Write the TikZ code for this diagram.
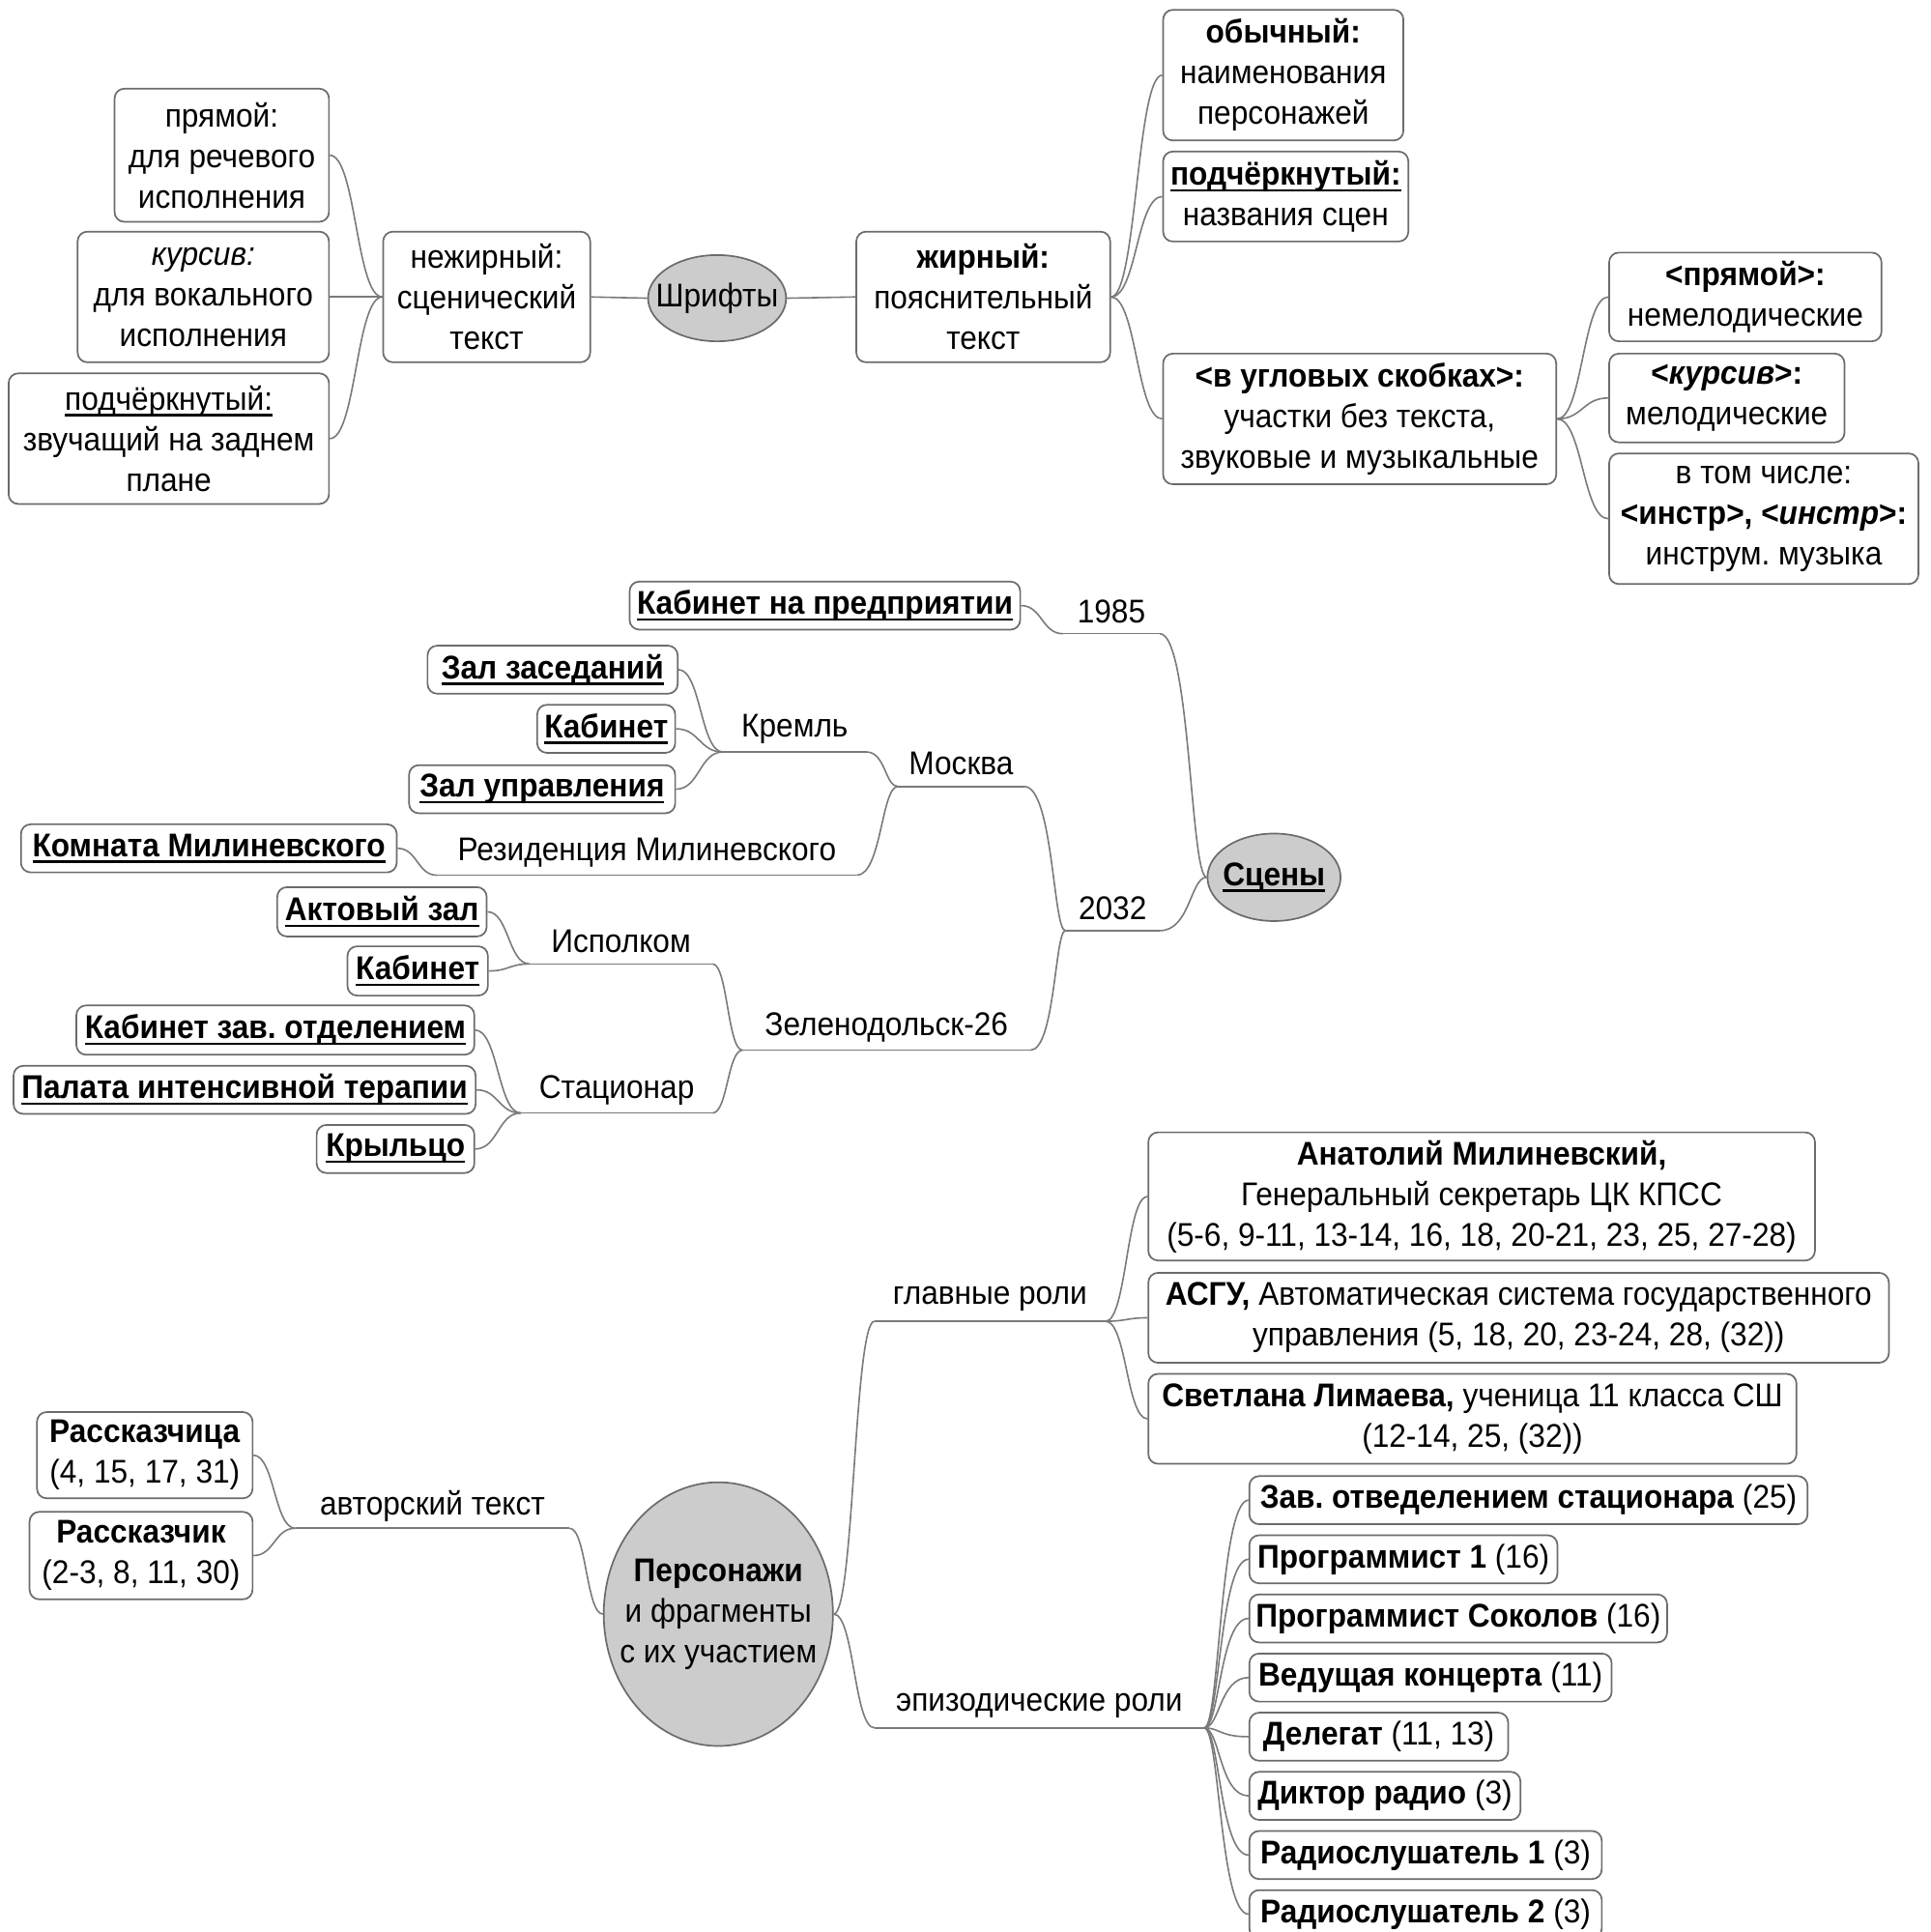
\documentclass[tikz,border=0pt]{standalone}
\usepackage{fontspec}
\setmainfont{Liberation Sans}[FakeStretch=0.93]
\usetikzlibrary{shapes.geometric,calc}
\frenchspacing
\newcommand\myul[1]{\leavevmode\setbox0=\hbox{#1}\rlap{\vrule width\wd0 height -2.0pt depth 3.2pt}\box0}
% box: [opts]{name}{x1}{y1}{x2}{y2}{text}
\newcommand\bxn[7][]{\node[bx,#1,minimum width={(#5-#3)*0.6375pt},minimum height={(#6-#4)*0.6375pt}] (#2) at ({(#3+#5)/2},{(#4+#6)/2}) {#7};}
% label with underline: {name}{x1}{x2}{yline}{text}
\newcommand\lbn[5]{\node[lbl,minimum width={(#3-#2)*0.6375pt},minimum height=36*0.6375pt] (#1) at ({(#2+#3)/2},{#4-18}) {#5};
  \draw[conn] (#1.south west) -- (#1.south east);}
% ellipse: {name}{cx}{cy}{w}{h}{text}
\newcommand\eln[6]{\node[ell,minimum width={#4*0.6375pt},minimum height={#5*0.6375pt}] (#1) at (#2,#3) {};
  \node[lbl] (#1-t) at (#1.center) {#6};}
\begin{document}
\begin{tikzpicture}[x=0.6375pt,y=-0.6375pt,
  every node/.style={font=\fontsize{17pt}{21pt}\selectfont\frenchspacing},
  bx/.style={draw=black!58, line width=0.85pt, rounded corners=5pt, fill=white, inner sep=0pt, align=center},
  ell/.style={ellipse, draw=black!58, fill=black!20, line width=0.85pt, inner sep=0pt},
  lbl/.style={inner sep=0pt, align=center},
  conn/.style={draw=black!52, line width=0.8pt},
  br/.style={to path={let \p1=(\tikztostart), \p2=(\tikztotarget) in .. controls ({\x1+#1*(\x2-\x1)},\y1) and ({\x1+#1*(\x2-\x1)},\y2) .. (\tikztotarget)}},
  br/.default=0.5]
\useasboundingbox (0,0) rectangle (1567,1568);
\clip (0,0) rectangle (1567,1568);
\fill[white] (0,0) rectangle (1567,1568);

% ---------- Шрифты ----------
\eln{shr}{582}{242}{112}{70}{Шрифты}
\bxn{nezh}{311}{188}{479}{294}{нежирный:\\сценический\\текст}
\bxn{pr}{93}{72}{267}{180}{прямой:\\для речевого\\исполнения}
\bxn{kur}{63}{188}{267}{294}{\textit{курсив:}\\для вокального\\исполнения}
\bxn{podch}{7}{303}{267}{409}{\myul{подчёркнутый:}\\звучащий на заднем\\плане}
\bxn{zh}{695}{188}{901}{294}{\textbf{жирный:}\\пояснительный\\текст}
\bxn{ob}{944}{8}{1139}{114}{\textbf{обычный:}\\наименования\\персонажей}
\bxn{podb}{944}{123}{1143}{196}{\textbf{\myul{подчёркнутый:}}\\названия сцен}
\bxn{ugl}{944}{287}{1263}{393}{\textbf{<в угловых скобках>:}\\участки без текста,\\звуковые и музыкальные}
\bxn{upr}{1306}{205}{1527}{277}{\textbf{<прямой>:}\\немелодические}
\bxn{ukur}{1306}{287}{1497}{359}{\textbf{<\textit{курсив}>:}\\мелодические}
\bxn{uin}{1306}{368}{1557}{474}{в том числе:\\\textbf{<инстр>, <\textit{инстр}>:}\\инструм. музыка}

\draw[conn] (nezh.east) -- (shr.west);
\draw[conn] (shr.east) -- (zh.west);
\draw[conn] (nezh.west) to[br] (pr.east);
\draw[conn] (nezh.west) to[br] (kur.east);
\draw[conn] (nezh.west) to[br] (podch.east);
\draw[conn] (zh.east) to[br] (ob.west);
\draw[conn] (zh.east) to[br] (podb.west);
\draw[conn] (zh.east) to[br] (ugl.west);
\draw[conn] (ugl.east) to[br] (upr.west);
\draw[conn] (ugl.east) to[br] (ukur.west);
\draw[conn] (ugl.east) to[br] (uin.west);

% ---------- Сцены ----------
\eln{sc}{1034}{712}{108}{71}{\textbf{\myul{Сцены}}}
\lbn{y85}{863}{941}{514}{1985}
\lbn{y32}{865}{941}{755}{2032}
\lbn{msk}{729}{831}{638}{Москва}
\lbn{krem}{587}{703}{610}{Кремль}
\lbn{rez}{355}{695}{710}{Резиденция Милиневского}
\lbn{zel}{603}{836}{852}{Зеленодольск-26}
\lbn{isp}{430}{578}{782}{Исполком}
\lbn{stc}{423}{578}{903}{Стационар}

\bxn{kp}{511}{472}{828}{511}{\textbf{\myul{Кабинет на предприятии}}}
\bxn{zz}{347}{524}{550}{563}{\textbf{\myul{Зал заседаний}}}
\bxn{kab1}{436}{572}{548}{611}{\textbf{\myul{Кабинет}}}
\bxn{zu}{332}{621}{548}{660}{\textbf{\myul{Зал управления}}}
\bxn{km}{17}{669}{322}{708}{\textbf{\myul{Комната Милиневского}}}
\bxn{az}{225}{720}{395}{760}{\textbf{\myul{Актовый зал}}}
\bxn{kab2}{282}{768}{396}{808}{\textbf{\myul{Кабинет}}}
\bxn{kzo}{62}{816}{385}{856}{\textbf{\myul{Кабинет зав. отделением}}}
\bxn{pit}{11}{865}{386}{904}{\textbf{\myul{Палата интенсивной терапии}}}
\bxn{kr}{257}{913}{385}{952}{\textbf{\myul{Крыльцо}}}

\draw[conn] (kp.east) to[br] (y85.south west);
\draw[conn] (y85.south east) to[br=0.65] (sc.west);
\draw[conn] (y32.south east) to[br=0.65] (sc.west);
\draw[conn] (msk.south east) to[br=0.7] (y32.south west);
\draw[conn] (zel.south east) to[br=0.7] (y32.south west);
\draw[conn] (krem.south east) to[br=0.6] (msk.south west);
\draw[conn] (rez.south east) to[br=0.6] (msk.south west);
\draw[conn] (zz.east) to[br] (krem.south west);
\draw[conn] (kab1.east) to[br] (krem.south west);
\draw[conn] (zu.east) to[br] (krem.south west);
\draw[conn] (km.east) to[br] (rez.south west);
\draw[conn] (az.east) to[br] (isp.south west);
\draw[conn] (kab2.east) to[br] (isp.south west);
\draw[conn] (kzo.east) to[br] (stc.south west);
\draw[conn] (pit.east) to[br] (stc.south west);
\draw[conn] (kr.east) to[br] (stc.south west);
\draw[conn] (isp.south east) to[br] (zel.south west);
\draw[conn] (stc.south east) to[br] (zel.south west);

% ---------- Персонажи ----------
\eln{pers}{583}{1310}{186}{214}{\textbf{Персонажи}\\и фрагменты\\с их участием}
\lbn{avt}{240}{462}{1240}{авторский текст}
\lbn{glav}{710}{897}{1072}{главные роли}
\lbn{epi}{710}{977}{1402}{эпизодические роли}

\bxn{rs1}{30}{1146}{205}{1216}{\textbf{Рассказчица}\\(4, 15, 17, 31)}
\bxn{rs2}{24}{1227}{205}{1298}{\textbf{Рассказчик}\\(2-3, 8, 11, 30)}
\bxn{anat}{932}{919}{1473}{1023}{\textbf{Анатолий Милиневский,}\\Генеральный секретарь ЦК КПСС\\(5-6, 9-11, 13-14, 16, 18, 20-21, 23, 25, 27-28)}
\bxn{asgu}{932}{1033}{1533}{1106}{\textbf{АСГУ,} Автоматическая система государственного\\управления (5, 18, 20, 23-24, 28, (32))}
\bxn{svet}{932}{1115}{1458}{1188}{\textbf{Светлана Лимаева,} ученица 11 класса СШ\\(12-14, 25, (32))}

\bxn{e1}{1014}{1198}{1467}{1237}{\textbf{Зав. отведелением стационара} (25)}
\bxn{e2}{1014}{1246}{1264}{1285}{\textbf{Программист 1} (16)}
\bxn{e3}{1014}{1294}{1353}{1333}{\textbf{Программист Соколов} (16)}
\bxn{e4}{1014}{1342}{1308}{1381}{\textbf{Ведущая концерта} (11)}
\bxn{e5}{1014}{1390}{1224}{1429}{\textbf{Делегат} (11, 13)}
\bxn{e6}{1014}{1438}{1234}{1477}{\textbf{Диктор радио} (3)}
\bxn{e7}{1014}{1486}{1300}{1525}{\textbf{Радиослушатель 1} (3)}
\bxn{e8}{1014}{1534}{1300}{1573}{\textbf{Радиослушатель 2} (3)}

\draw[conn] (rs1.east) to[br] (avt.south west);
\draw[conn] (rs2.east) to[br] (avt.south west);
\draw[conn] (avt.south east) to[br] (pers.west);
\draw[conn] (pers.east) to[br] (glav.south west);
\draw[conn] (pers.east) to[br] (epi.south west);
\draw[conn] (glav.south east) to[br] (anat.west);
\draw[conn] (glav.south east) to[br] (asgu.west);
\draw[conn] (glav.south east) to[br] (svet.west);
\draw[conn] (epi.south east) to[br=0.35] (e1.west);
\draw[conn] (epi.south east) to[br=0.35] (e2.west);
\draw[conn] (epi.south east) to[br=0.35] (e3.west);
\draw[conn] (epi.south east) to[br=0.35] (e4.west);
\draw[conn] (epi.south east) to[br=0.35] (e5.west);
\draw[conn] (epi.south east) to[br=0.35] (e6.west);
\draw[conn] (epi.south east) to[br=0.35] (e7.west);
\draw[conn] (epi.south east) to[br=0.35] (e8.west);
\end{tikzpicture}
\end{document}
